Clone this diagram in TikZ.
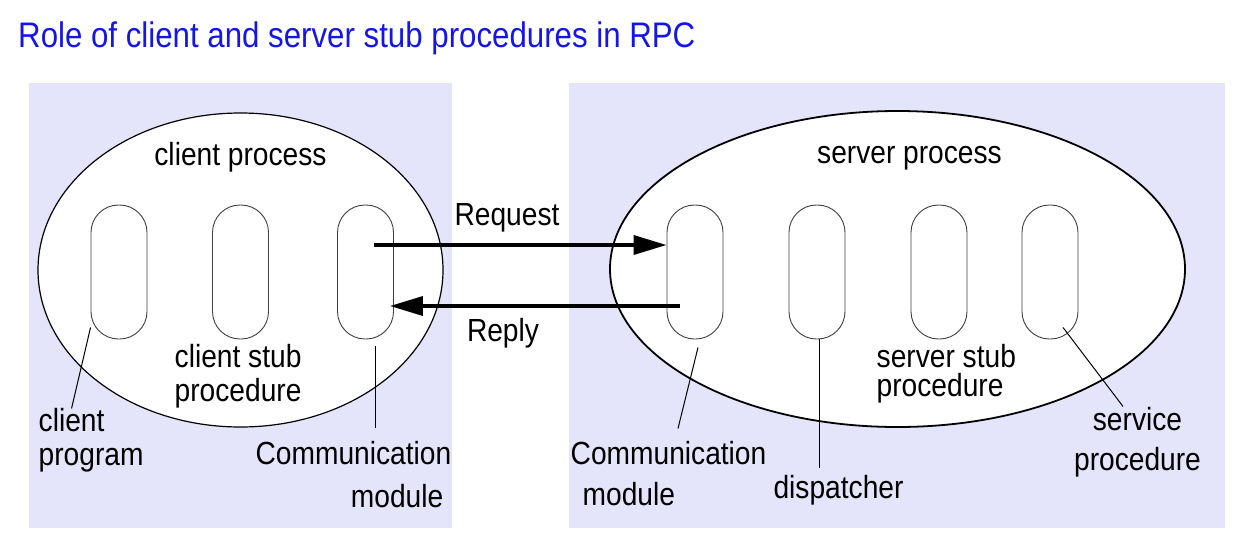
\documentclass[tikz,border=0pt]{standalone}
\usepackage{fontspec}
\setmainfont[FakeStretch=0.88]{Liberation Sans}
\usetikzlibrary{arrows.meta}

\definecolor{panelbg}{RGB}{228,228,250}
\definecolor{titleblue}{RGB}{20,20,235}

\tikzset{
  capsule/.style={draw=black!75, line width=0.9pt, fill=white, minimum width=56pt,
    minimum height=134pt, rounded corners=27.5pt, inner sep=0pt},
  lbl/.style={font=\fontsize{32}{34}\selectfont, inner sep=2pt},
  lead/.style={line width=1pt},
  msg/.style={line width=3.6pt, -{Triangle[length=33pt,width=19pt]}}
}

\begin{document}
\begin{tikzpicture}[x=1pt, y=-1pt]

        \useasboundingbox (0,0) rectangle (1258,552);

        \node[anchor=base west, inner sep=0pt, text=titleblue, font=\fontsize{35.5}{40}\selectfont]
          (title) at (18,47) {Role of client and server stub procedures in RPC};

        \fill[panelbg] (29,83) rectangle (452,528);
        \fill[panelbg] (569,83) rectangle (1225,528);

        \begin{scope}[shift={(240.5,270)}]

          \draw[line width=1.2pt, fill=white] (0,0) ellipse (202.5 and 157);
          \node[lbl] (cproc) at (0,-113) {client process};

          \node[capsule] (cprog) at (-121.5,2) {};
          \node[capsule] (cstub) at (0,2) {};
          \node[capsule] (ccomm) at (125,2) {};

          \node[lbl, anchor=west, align=left] (cstubl) at (-68,106) {client stub\\procedure};
          \node[lbl, anchor=west, align=left] (cprogl) at (-204,170) {client\\program};
          \node[lbl, anchor=east, align=right] (ccoml) at (213,205) {Communication\\[9pt]module\hspace*{8pt}};
        \end{scope}

        \begin{scope}[shift={(897.5,269)}]

          \draw[line width=1.8pt, fill=white] (0,0) ellipse (287.5 and 158);
          \node[lbl] (sproc) at (12,-111) {server process};

          \node[capsule] (scomm) at (-202.5,3) {};
          \node[capsule] (sdisp) at (-80.5,3) {};
          \node[capsule] (sstub) at (41.5,3) {};
          \node[capsule] (sserv) at (152.5,3) {};

          \node[lbl, anchor=west, align=left] (sstubl) at (-23,105) {server stub\\[-5pt]procedure};
          \node[lbl, anchor=west, align=left] (scoml) at (-329,205) {Communication\\[7pt]\hspace*{12pt}module};
          \node[lbl] (sdispl) at (-59,221) {dispatcher};
          \node[lbl, align=center] (sservl) at (240,173) {service\\[6pt]procedure};
        \end{scope}

        \draw[msg] ([xshift=8pt,yshift=27pt]ccomm.center) -- ([yshift=27pt]scomm.west);
        \node[lbl] (req) at (507,218) {Request};

        \draw[msg] ([xshift=-15pt,yshift=-34pt]scomm.center) -- ([xshift=-4pt,yshift=-34pt]ccomm.east);
        \node[lbl] (rep) at (503,333) {Reply};

        \draw[lead] ([yshift=12pt]cprog.south west) -- ++(-19,81);
        \draw[lead] ([xshift=10pt,yshift=-7pt]ccomm.south) -- ++(0,82);
        \draw[lead] ([xshift=3pt,yshift=-8pt]scomm.south) -- ++(-20,81);
        \draw[lead] ([xshift=2pt]sdisp.south) -- ++(0,129);
        \draw[lead] ([xshift=13pt,yshift=12pt]sserv.south) -- ++(60,79);

      \end{tikzpicture}
\end{document}
